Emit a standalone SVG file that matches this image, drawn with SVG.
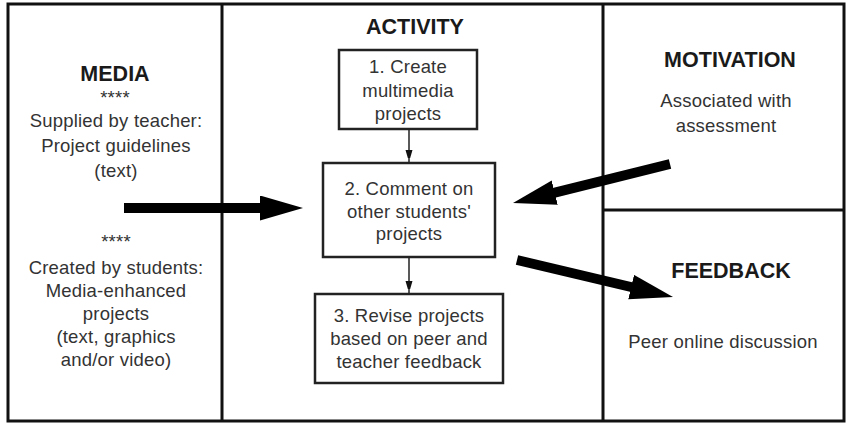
<svg xmlns="http://www.w3.org/2000/svg" width="846" height="424" viewBox="0 0 846 424">
<defs>
<marker id="big" markerUnits="userSpaceOnUse" markerWidth="46" markerHeight="26" refX="2" refY="12.5" orient="auto">
<path d="M0,0 L43,12.5 L0,25 z" fill="#000"/>
</marker>
<marker id="small" markerUnits="userSpaceOnUse" markerWidth="8" markerHeight="13" refX="12" refY="3.5" orient="auto">
<path d="M0,0 L12,3.5 L0,7 z" fill="#111"/>
</marker>
</defs>
<style>
text{font-family:"Liberation Sans",Arial,sans-serif;text-anchor:middle}
.t{font-size:18.5px;fill:#333;letter-spacing:0.2px}
.h{font-size:21.5px;font-weight:bold;fill:#1a1a1a}
.frame{fill:none;stroke:#111;stroke-width:3}
.box{fill:#fff;stroke:#222;stroke-width:2.5}
.big{stroke:#000;stroke-width:10;fill:none;marker-end:url(#big)}
.sm{stroke:#222;stroke-width:1.5;fill:none;marker-end:url(#small)}
</style>
<rect width="846" height="424" fill="#fff"/>
<g id="frame">
<rect class="frame" x="8" y="4" width="836" height="417"/>
<line class="frame" x1="222" y1="4" x2="222" y2="421"/>
<line class="frame" x1="603" y1="4" x2="603" y2="421"/>
<line class="frame" x1="603" y1="210" x2="844" y2="210"/>
</g>
<g id="media">
<text class="h" x="115" y="81">MEDIA</text>
<text class="t" x="115" y="104">****</text>
<text class="t" x="116" y="127">Supplied by teacher:</text>
<text class="t" x="116" y="152">Project guidelines</text>
<text class="t" x="116" y="177">(text)</text>
<text class="t" x="116" y="248">****</text>
<text class="t" x="116" y="274">Created by students:</text>
<text class="t" x="116" y="297">Media-enhanced</text>
<text class="t" x="116" y="320">projects</text>
<text class="t" x="116" y="343">(text, graphics</text>
<text class="t" x="116" y="366">and/or video)</text>
</g>
<g id="activity">
<text class="h" x="415" y="34">ACTIVITY</text>
</g>
<g id="step1">
<rect class="box" x="339" y="50" width="138" height="79"/>
<text class="t" x="408" y="73">1. Create</text>
<text class="t" x="408" y="97">multimedia</text>
<text class="t" x="408" y="120">projects</text>
</g>
<g id="step2">
<rect class="box" x="323" y="163" width="172" height="94"/>
<text class="t" x="409" y="195">2. Comment on</text>
<text class="t" x="409" y="218">other students'</text>
<text class="t" x="409" y="240">projects</text>
</g>
<g id="step3">
<rect class="box" x="315" y="294" width="188" height="89"/>
<text class="t" x="409" y="322">3. Revise projects</text>
<text class="t" x="409" y="345">based on peer and</text>
<text class="t" x="409" y="368">teacher feedback</text>
</g>
<g id="motivation">
<text class="h" x="730" y="67">MOTIVATION</text>
<text class="t" x="726" y="107">Associated with</text>
<text class="t" x="726" y="132">assessment</text>
</g>
<g id="feedback">
<text class="h" x="731" y="278">FEEDBACK</text>
<text class="t" x="723" y="348">Peer online discussion</text>
</g>
<g id="connectors">
<line class="sm" x1="409" y1="129" x2="409" y2="162"/>
<line class="sm" x1="409" y1="257" x2="409" y2="293"/>
<line class="big" x1="124" y1="208" x2="262" y2="208"/>
<line class="big" x1="670" y1="164" x2="552.8" y2="193.1"/>
<line class="big" x1="517" y1="260" x2="633.1" y2="287.5"/>
</g>
</svg>
